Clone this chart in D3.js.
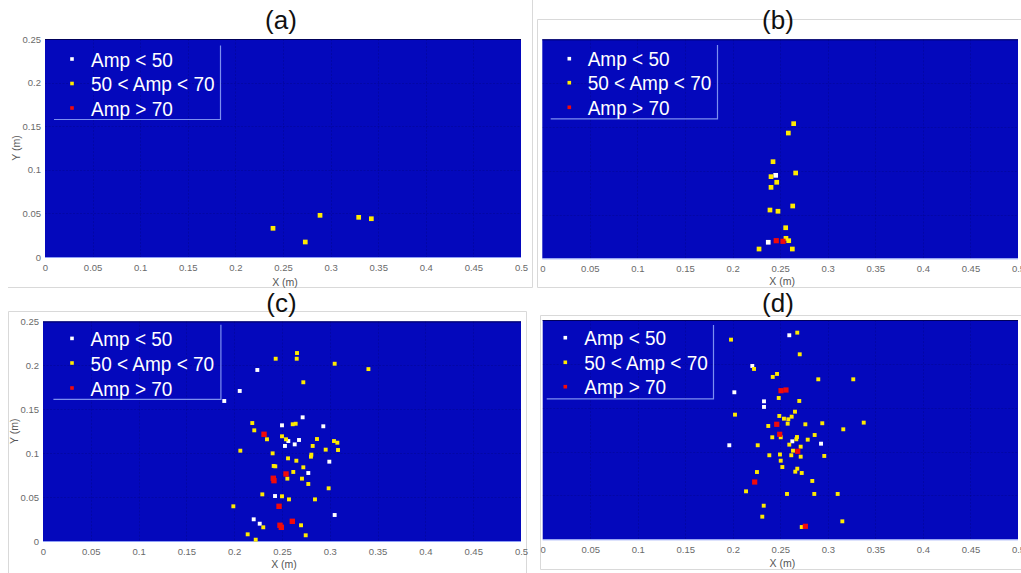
<!DOCTYPE html>
<html>
<head>
<meta charset="utf-8">
<script src="https://cdn.jsdelivr.net/npm/d3@7"></script>
<style>
  html, body { margin: 0; padding: 0; background: #ffffff; }
  svg { display: block; font-family: "Liberation Sans", Arial, Helvetica, sans-serif; }
</style>
</head>
<body>
<svg id="fig" width="1021" height="573"></svg>
<script>
// ---- axis ticks and labels ----
const xTicks = [0, 0.05, 0.1, 0.15, 0.2, 0.25, 0.3, 0.35, 0.4, 0.45, 0.5];
const xTickLabels = ["0", "0.05", "0.1", "0.15", "0.2", "0.25", "0.3", "0.35", "0.4", "0.45", "0.5"];
const yTicks = [0, 0.05, 0.1, 0.15, 0.2, 0.25];
const yTickLabels = ["0", "0.05", "0.1", "0.15", "0.2", "0.25"];
const legendLabels = ["Amp < 50", "50 < Amp < 70", "Amp > 70"];
const panelTitles = ["(a)", "(b)", "(c)", "(d)"];
const xAxisTitle = "X (m)";
const yAxisTitle = "Y (m)";

// ---- detected source positions [x (m), y (m)] per amplitude class ----
// (a)
const aLow = [];
const aMid = [[0.2395, 0.0329], [0.2734, 0.0172], [0.2889, 0.0478], [0.3295, 0.0455], [0.3428, 0.0439]];
const aHigh = [];

// (b)
const bLow = [[0.2453, 0.0947], [0.2375, 0.0183]];
const bMid = [[0.2642, 0.1537], [0.2586, 0.1430], [0.2425, 0.1103], [0.2404, 0.0932], [0.2663, 0.0974],
  [0.2464, 0.0868], [0.2404, 0.0810], [0.2393, 0.0551], [0.2477, 0.0537], [0.2632, 0.0597],
  [0.2558, 0.0349], [0.2561, 0.0228], [0.2590, 0.0201], [0.2278, 0.0106], [0.2628, 0.0106]];
const bHigh = [[0.2459, 0.0201], [0.2530, 0.0194]];

// (c)
const cLow = [[0.2242, 0.1947], [0.2058, 0.1708], [0.1896, 0.1594], [0.2500, 0.1317], [0.2716, 0.1408],
  [0.2932, 0.1306], [0.2566, 0.1138], [0.2678, 0.1150], [0.2531, 0.1082], [0.2633, 0.1100],
  [0.2995, 0.0903], [0.2775, 0.0774], [0.2427, 0.0512], [0.3051, 0.0296], [0.2204, 0.0247],
  [0.2267, 0.0197]];
const cMid = [[0.2434, 0.2075], [0.2657, 0.2140], [0.2654, 0.2075], [0.3051, 0.2018], [0.3404, 0.1957],
  [0.2723, 0.1807], [0.2189, 0.1343], [0.2210, 0.1260], [0.2612, 0.1329], [0.2643, 0.1335],
  [0.2343, 0.1158], [0.2500, 0.1192], [0.2542, 0.1158], [0.2866, 0.1161], [0.3044, 0.1138],
  [0.3079, 0.1119], [0.2821, 0.1082], [0.2064, 0.1028], [0.2957, 0.1040], [0.3086, 0.1036],
  [0.2402, 0.0998], [0.2807, 0.0983], [0.2803, 0.0960], [0.2563, 0.0941], [0.2650, 0.0914],
  [0.2413, 0.0854], [0.2430, 0.0850], [0.2723, 0.0839], [0.2618, 0.0786], [0.2556, 0.0710],
  [0.2709, 0.0710], [0.2775, 0.0649], [0.2988, 0.0600], [0.2294, 0.0531], [0.2500, 0.0509],
  [0.2573, 0.0474], [0.2845, 0.0474], [0.1991, 0.0395], [0.2304, 0.0156], [0.2699, 0.0179],
  [0.2141, 0.0076], [0.2748, 0.0065], [0.2225, 0.0015]];
const cHigh = [[0.2312, 0.1215], [0.2542, 0.0763], [0.2409, 0.0714], [0.2416, 0.0687], [0.2469, 0.0395],
  [0.2608, 0.0224], [0.2479, 0.0179], [0.2493, 0.0156]];

// (d)
const dLow = [[0.2594, 0.2326], [0.2205, 0.1976], [0.2016, 0.1676], [0.2328, 0.1573], [0.2328, 0.1509],
  [0.2626, 0.1117], [0.2928, 0.1090], [0.1963, 0.1072]];
const dMid = [[0.1981, 0.2276], [0.2678, 0.2356], [0.2704, 0.2109], [0.2223, 0.1942], [0.2465, 0.1885],
  [0.2420, 0.1851], [0.2899, 0.1824], [0.3267, 0.1824], [0.2483, 0.1611], [0.2699, 0.1577],
  [0.2023, 0.1421], [0.2489, 0.1406], [0.2538, 0.1375], [0.2584, 0.1368], [0.2619, 0.1398],
  [0.2654, 0.1455], [0.2941, 0.1323], [0.3377, 0.1330], [0.2373, 0.1292], [0.2577, 0.1318],
  [0.2763, 0.1311], [0.3162, 0.1254], [0.2415, 0.1163], [0.2504, 0.1163], [0.2675, 0.1166],
  [0.2668, 0.1140], [0.2788, 0.1136], [0.2861, 0.1189], [0.2262, 0.1072], [0.2594, 0.1079],
  [0.2714, 0.1056], [0.2633, 0.1010], [0.2714, 0.0942], [0.2962, 0.0950], [0.2384, 0.0958],
  [0.2496, 0.0967], [0.2615, 0.0958], [0.2504, 0.0896], [0.2521, 0.0824], [0.2678, 0.0805],
  [0.2657, 0.0771], [0.2725, 0.0756], [0.2254, 0.0767], [0.2836, 0.0665], [0.2139, 0.0547],
  [0.2570, 0.0517], [0.2857, 0.0517], [0.3103, 0.0517], [0.2325, 0.0383], [0.2310, 0.0258],
  [0.3152, 0.0205], [0.2725, 0.0140]];
const dHigh = [[0.2507, 0.1694], [0.2559, 0.1702], [0.2462, 0.1311], [0.2493, 0.1197], [0.2683, 0.1003],
  [0.2230, 0.0653], [0.2763, 0.0148]];

// ---- styling ----
const bgColor = "#0408bc";
const classColors = ["#ffffff", "#ffea00", "#f20a0a"];
const legendLineColor = "#7d8ff0";
const frameColor = "#d9d9d9";
const tickColor = "#6a6a6a";

// ---- panel layout ----
const panels = [
  { title: panelTitles[0], data: [aLow, aMid, aHigh], x0: 45, x1: 521, y0: 39, y1: 257,
    titleX: 281, titleY: 29, xLabY: 286, showY: true, yLabX: 16,
    ms: 4.7, msHigh: 5.2,
    leg: { mx: 27, tx: 46, rows: [20, 44.5, 69], left: 9, right: 175, top: 6.5, bottom: 80 } },
  { title: panelTitles[1], data: [bLow, bMid, bHigh], x0: 542.3, x1: 1018, y0: 39.3, y1: 258.3,
    titleX: 778, titleY: 29, xLabY: 285, showY: false,
    ms: 4.7, msHigh: 5.2,
    leg: { mx: 27, tx: 45.4, rows: [19.4, 43.4, 68], left: 8.4, right: 174.7, top: 5.7, bottom: 79 } },
  { title: panelTitles[2], data: [cLow, cMid, cHigh], x0: 43, x1: 521, y0: 321.4, y1: 541,
    titleX: 281.5, titleY: 312, xLabY: 568, showY: true, yLabX: 14,
    ms: 3.9, msHigh: 5.4,
    leg: { mx: 29, tx: 47.6, rows: [17, 41.6, 66.6], left: 10.4, right: 177.4, top: 3.4, bottom: 77.4 } },
  { title: panelTitles[3], data: [dLow, dMid, dHigh], x0: 542.7, x1: 1018, y0: 320, y1: 539.3,
    titleX: 778, titleY: 312, xLabY: 567, showY: false,
    ms: 3.9, msHigh: 5.2,
    leg: { mx: 22.6, tx: 41.6, rows: [17.7, 42.3, 66.7], left: 4, right: 170.3, top: 5, bottom: 78.3 } }
];

const svg = d3.select("#fig");

// light figure frames around the sub-plots
const frames = svg.append("g").attr("fill", "none").attr("stroke", frameColor).attr("stroke-width", 1);
frames.append("path").attr("d", "M8,287.5 H532.5 V0");
frames.append("path").attr("d", "M1021,19.5 H537.5 V287.5 H1021");
frames.append("path").attr("d", "M8.5,573 V311.5 H526.5 V573");
frames.append("path").attr("d", "M1021,315.5 H540.5 V569.5 H1021");

panels.forEach(p => {
  const g = svg.append("g");
  const x = d3.scaleLinear().domain([0, 0.5]).range([p.x0, p.x1]);
  const y = d3.scaleLinear().domain([0, 0.25]).range([p.y1, p.y0]);

  // plotting area
  g.append("rect")
    .attr("x", x(0)).attr("y", y(0.25))
    .attr("width", x(0.5) - x(0)).attr("height", y(0) - y(0.25))
    .attr("fill", bgColor);

  // faint grid
  const grid = g.append("g").attr("stroke", "#000022").attr("stroke-opacity", 0.14)
    .attr("stroke-width", 1).attr("stroke-dasharray", "2,1.5");
  grid.selectAll("line.v").data(xTicks.slice(1, -1)).join("line")
    .attr("x1", d => Math.round(x(d)) + 0.5).attr("x2", d => Math.round(x(d)) + 0.5)
    .attr("y1", y(0.25)).attr("y2", y(0));
  grid.selectAll("line.h").data(yTicks.slice(1, -1)).join("line")
    .attr("y1", d => Math.round(y(d)) + 0.5).attr("y2", d => Math.round(y(d)) + 0.5)
    .attr("x1", x(0)).attr("x2", x(0.5));

  // top border and bottom axis line
  g.append("line").attr("x1", x(0)).attr("x2", x(0.5)).attr("y1", y(0.25) + 0.5).attr("y2", y(0.25) + 0.5)
    .attr("stroke", "#00005a").attr("stroke-width", 1);
  g.append("line").attr("x1", x(0)).attr("x2", x(0.5)).attr("y1", y(0) + 0.5).attr("y2", y(0) + 0.5)
    .attr("stroke", "#8e9ef5").attr("stroke-width", 1);

  // source markers: white, yellow, red
  p.data.forEach((pts, k) => {
    const s = k === 2 ? p.msHigh : p.ms;
    g.append("g").selectAll("rect").data(pts).join("rect")
      .attr("x", d => x(d[0]) - s / 2)
      .attr("y", d => y(d[1]) - s / 2)
      .attr("width", s).attr("height", s)
      .attr("fill", classColors[k]);
  });

  // x axis
  const xAxis = d3.axisBottom(x).tickValues(xTicks)
    .tickFormat((d, i) => xTickLabels[i]).tickSize(0).tickPadding(7);
  const xa = g.append("g").attr("transform", `translate(0,${y(0)})`).call(xAxis);
  xa.select(".domain").remove();
  xa.selectAll("text").attr("fill", tickColor).attr("font-size", 9.5)
    .attr("font-family", "'Liberation Sans', Arial, sans-serif");

  g.append("text").attr("x", (p.x0 + p.x1) / 2 + 2).attr("y", p.xLabY)
    .attr("text-anchor", "middle").attr("font-size", 10.5).attr("fill", "#555")
    .text(xAxisTitle);

  // y axis
  if (p.showY) {
    const yAxis = d3.axisLeft(y).tickValues(yTicks)
      .tickFormat((d, i) => yTickLabels[i]).tickSize(0).tickPadding(4);
    const ya = g.append("g").attr("transform", `translate(${x(0)},0)`).call(yAxis);
    ya.select(".domain").remove();
    ya.selectAll("text").attr("fill", tickColor).attr("font-size", 9.5)
      .attr("font-family", "'Liberation Sans', Arial, sans-serif");
    g.append("text")
      .attr("transform", `translate(${p.yLabX},${(p.y0 + p.y1) / 2}) rotate(-90)`)
      .attr("text-anchor", "middle").attr("dy", "0.35em")
      .attr("font-size", 10.5).attr("fill", "#555")
      .text(yAxisTitle);
  }

  // title
  g.append("text").attr("x", p.titleX).attr("y", p.titleY)
    .attr("text-anchor", "middle").attr("font-size", 26).attr("fill", "#111")
    .text(p.title);

  // legend
  const L = p.leg;
  const lg = g.append("g").attr("transform", `translate(${p.x0},${p.y0})`);
  lg.append("path")
    .attr("d", `M${L.right + 0.5},${L.top} V${L.bottom + 0.5} H${L.left}`)
    .attr("fill", "none").attr("stroke", legendLineColor).attr("stroke-width", 1.2);
  legendLabels.forEach((lab, k) => {
    lg.append("rect").attr("x", L.mx - 1.8).attr("y", L.rows[k] - 1.8)
      .attr("width", 3.6).attr("height", 3.6).attr("fill", classColors[k]);
    lg.append("text")
      .attr("transform", `translate(${L.tx},${L.rows[k]}) scale(1,1.1)`)
      .attr("dy", "0.36em").attr("font-size", 19).attr("fill", "#ffffff")
      .text(lab);
  });
});
</script>
</body>
</html>
